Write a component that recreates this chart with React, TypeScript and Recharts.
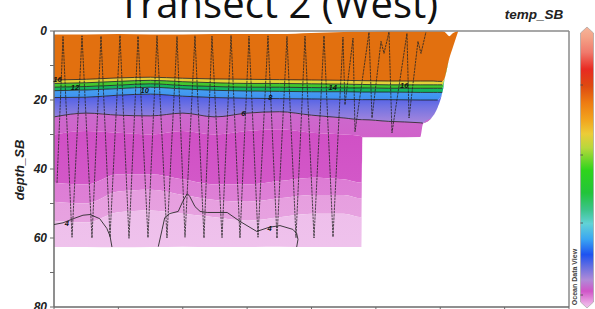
import React from 'react';
import { ComposedChart, Area, Line, Scatter, XAxis, YAxis, ReferenceLine } from 'recharts';

// section sample positions (distance units) and layer depths (m)
const X = [0, 5, 10, 15, 20, 25, 30, 35, 40, 45, 47.8, 47.9, 52, 56.9, 57.3, 58.9, 59.6, 60.3, 60.7, 61.4, 62.0, 62.8];
const TOP = [1.0, 1.0, 0.9, 1.0, 1.0, 0.9, 0.9, 0.9, 0.6, 0.3, 0.2, 0.2, 0.1, 0.1, 0.1, 0.1, 0.1, 0.1, 0.3, 1.5, 0.6, 0.0];
const BOTTOM = [62.6, 62.6, 62.7, 62.6, 62.5, 62.6, 62.6, 62.5, 62.6, 62.6, 62.6, 30.8, 30.8, 30.7, 27.0, 24.6, 22.2, 18.0, 13.6, 8.0, 4.5, 0.0];
const C16 = [14.2, 14.0, 13.6, 13.4, 13.7, 13.9, 14.0, 14.1, 14.2, 14.3, 14.4, 14.4, 14.5, 14.5, 14.5, 14.5, 14.6, 14.6, 14.6, 14.6, 14.6, 14.6];
const C14 = [15.2, 15.0, 14.6, 14.3, 14.7, 15.0, 15.2, 15.2, 15.3, 15.4, 15.5, 15.5, 15.6, 15.6, 15.6, 15.6, 15.6, 15.6, 15.6, 15.6, 15.6, 15.6];
const C12 = [16.3, 16.1, 15.7, 15.3, 15.8, 16.1, 16.3, 16.3, 16.4, 16.5, 16.5, 16.5, 16.6, 16.6, 16.6, 16.6, 16.6, 16.6, 16.6, 16.6, 16.6, 16.6];
const C10 = [17.3, 17.1, 16.7, 16.3, 16.8, 17.2, 17.4, 17.5, 17.6, 17.6, 17.7, 17.7, 17.7, 17.8, 17.8, 17.8, 17.8, 17.8, 17.8, 17.8, 17.8, 17.8];
const C8 = [19.3, 19.2, 18.6, 18.3, 18.9, 19.3, 19.5, 19.6, 19.7, 19.8, 19.9, 19.9, 19.9, 20.0, 20.0, 20.0, 20.0, 20.0, 20.0, 20.0, 20.0, 20.0];
const C6 = [24.9, 23.8, 24.4, 24.6, 23.8, 24.9, 23.8, 23.4, 24.4, 25.2, 25.7, 25.7, 26.2, 26.6, 26.7, 26.7, 26.7, 26.7, 26.7, 26.7, 26.7, 26.7];
const P1 = [30.0, 29.0, 29.5, 30.0, 29.0, 30.0, 29.0, 28.5, 29.5, 30.0, 30.5, 33.0, 33.0, 33.0, 33.0, 33.0, 33.0, 33.0, 33.0, 33.0, 33.0, 33.0];
const P2 = [44.0, 44.5, 41.5, 41.5, 43.0, 44.5, 44.5, 43.5, 42.5, 43.0, 44.0, 44.0, 44.0, 44.0, 44.0, 44.0, 44.0, 44.0, 44.0, 44.0, 44.0, 44.0];
const P3 = [49.5, 50.0, 46.5, 46.0, 47.5, 49.0, 49.5, 48.5, 47.5, 47.5, 48.5, 48.5, 48.5, 48.5, 48.5, 48.5, 48.5, 48.5, 48.5, 48.5, 48.5, 48.5];
const P4 = [55.0, 55.5, 52.5, 52.0, 53.0, 54.0, 55.0, 54.0, 53.0, 53.0, 54.0, 54.0, 54.0, 54.0, 54.0, 54.0, 54.0, 54.0, 54.0, 54.0, 54.0, 54.0];

// glider track
const TRACK_X = [0.47, 1.40, 2.80, 4.35, 5.90, 7.30, 8.70, 10.25, 11.65, 13.05, 14.60, 16.00, 17.55, 19.11, 20.35, 21.90, 23.30, 24.54, 26.10, 27.50, 28.89, 30.29, 31.69, 33.24, 34.64, 36.19, 37.59, 38.99, 40.39, 41.94, 43.34, 44.89, 45.20, 46.45, 46.76, 48.93, 49.40, 50.80, 51.26, 52.04, 52.50, 54.83, 55.15, 56.54, 57.01, 57.78];
const TRACK_D = [44.0, 1.6, 59.8, 1.4, 60.0, 1.5, 59.7, 1.3, 60.1, 1.5, 59.9, 1.4, 60.0, 1.6, 59.8, 1.4, 60.0, 1.5, 59.9, 1.3, 60.0, 1.5, 59.8, 1.4, 60.1, 1.6, 59.9, 1.5, 60.0, 1.4, 59.7, 1.8, 21.4, 2.1, 29.2, 0.4, 25.2, 3.0, 6.5, 0.3, 29.5, 0.7, 25.2, 3.0, 6.5, 0.3];

// 4 degree isotherm, two pieces
const C4A_X = [0, 1.4, 3.0, 4.5, 5.6, 7.1, 8.2, 8.7, 9.0];
const C4A_D = [56.1, 55.6, 54.4, 53.4, 53.2, 54.4, 57.2, 59.4, 62.6];
const C4B_X = [16.2, 16.8, 17.2, 18.0, 19.3, 20.0, 20.7, 21.1, 21.9, 22.7, 23.8, 26.9, 28.9, 31.5, 33.4, 35.1, 37.1, 37.7, 37.9, 37.7];
const C4B_D = [62.5, 57.5, 54.1, 52.9, 52.3, 49.4, 47.1, 48.0, 50.9, 52.3, 52.6, 52.6, 55.2, 58.1, 56.9, 56.4, 57.5, 58.7, 60.4, 62.6];

const LABELS = ['16', '12', '10', '8', '6', '4', '4', '14', '16'];
const LABEL_X = [0.55, 3.26, 14.1, 33.6, 29.4, 2.0, 33.5, 43.3, 54.4];
const LABEL_D = [14.2, 16.5, 17.3, 19.4, 24.0, 55.9, 57.2, 16.4, 15.7];

const DEPTH_TICKS = [0, 10, 20, 30, 40, 50, 60, 70, 80];
const DIST_TICKS = [0, 10, 20, 30, 40, 50, 60, 70, 80];

const BOUNDS = [TOP, C16, C14, C12, C10, C8, C6, P1, P2, P3, P4, BOTTOM];
const BAND_FILLS = ['#e2700f', 'url(#gB)', 'url(#gC)', 'url(#gD)', 'url(#gE)', 'url(#gF)', 'url(#gG)', 'url(#gH)', 'url(#gI)', 'url(#gJ)', 'url(#gK)'];
const CONTOURS: [string, number[]][] = [['c16', C16], ['c14', C14], ['c12', C12], ['c10', C10], ['c8', C8], ['c6', C6]];

const GRADS: [string, [number, string][]][] = [
  ['gB', [[0, '#efa22e'], [1, '#e3d23a']]],
  ['gC', [[0, '#b5d63c'], [1, '#3cc62c']]],
  ['gD', [[0, '#1fbf32'], [1, '#14b462']]],
  ['gE', [[0, '#1fb0a6'], [0.5, '#5ac6e8'], [1, '#3d8ef2']]],
  ['gF', [[0, '#2a5ff2'], [0.3, '#1a3ff0'], [0.6, '#2a4bef'], [0.82, '#7273e2'], [1, '#a886dc']]],
  ['gG', [[0, '#bf80d8'], [1, '#d062ca']]],
  ['gH', [[0, '#d05ac8'], [0.5, '#cf4cc4'], [1, '#d358c8']]],
  ['gI', [[0, '#d866ce'], [1, '#de80d6']]],
  ['gJ', [[0, '#e18cda'], [1, '#e7a2e0']]],
  ['gK', [[0, '#eaaee7'], [1, '#efc2ec']]],
];

const clip = (v: number, lo: number, hi: number) => Math.min(Math.max(v, lo), hi);

const rows = X.map((x, i) => {
  const r: any = { x };
  for (let b = 0; b < BOUNDS.length - 1; b++) {
    r['band' + b] = [clip(BOUNDS[b][i], TOP[i], BOTTOM[i]), clip(BOUNDS[b + 1][i], TOP[i], BOTTOM[i])];
  }
  CONTOURS.forEach(([k, arr]) => {
    r[k] = arr[i] <= BOTTOM[i] ? arr[i] : null;
  });
  return r;
});

const track = TRACK_X.map((x, i) => ({ x, y: TRACK_D[i] }));
const c4a = C4A_X.map((x, i) => ({ x, y: C4A_D[i] }));
const c4b = C4B_X.map((x, i) => ({ x, y: C4B_D[i] }));
const labels = LABELS.map((t, i) => ({ x: LABEL_X[i], y: LABEL_D[i], t }));

const noDot = () => <g />;
const labelShape = (p: any) => (
  <text x={p.cx} y={p.cy} dy={2.5} textAnchor="middle" fontSize={7.5} fontWeight="bold" fontStyle="italic"
    fontFamily="Liberation Sans, Arial" fill="#111">{p.payload.t}</text>
);

const BAR_STOPS: [number, string][] = [
  [0.0, '#f6b49a'], [0.035, '#f4a488'], [0.09, '#f07a6c'], [0.15, '#e82a22'], [0.21, '#de4a10'],
  [0.27, '#ee7c12'], [0.33, '#f2a41e'], [0.38, '#eccc38'], [0.43, '#b8d83c'], [0.51, '#2ed41c'],
  [0.59, '#22c43a'], [0.65, '#3cc48a'], [0.70, '#62d2d6'], [0.755, '#3aa6f2'], [0.81, '#1e52f0'],
  [0.855, '#6a70e0'], [0.90, '#b08ad8'], [0.94, '#d055c8'], [0.985, '#ecaee6'], [1, '#f0bcea'],
];

const axisFont = { fontSize: 12, fontWeight: 'bold', fontStyle: 'italic', fontFamily: 'Liberation Sans, Arial', fill: '#222' };

export default function App() {
  return (
    <div style={{ position: 'absolute', left: 0, top: 0, width: 595, height: 309, overflow: 'hidden', background: '#fff' }}>
      <ComposedChart width={595} height={330} data={rows} margin={{ top: 31, right: 26, bottom: 0, left: 0 }}>
        <defs>
          {GRADS.map(([id, stops]) => (
            <linearGradient key={id} id={id} x1="0" y1="0" x2="0" y2="1">
              {stops.map(([o, c]) => <stop key={o} offset={o} stopColor={c} />)}
            </linearGradient>
          ))}
        </defs>
        <XAxis dataKey="x" type="number" domain={[0, 80]} ticks={DIST_TICKS} tickFormatter={() => ''}
          height={23} tickSize={5} axisLine={{ stroke: '#6a6a6a', strokeWidth: 1.5 }} tickLine={{ stroke: '#6a6a6a' }} />
        <YAxis type="number" domain={[0, 80]} reversed ticks={DEPTH_TICKS} width={54} tickSize={4} tickMargin={3}
          tickFormatter={(v: number) => (v % 20 === 0 ? String(v) : '')} tick={axisFont}
          axisLine={{ stroke: '#6a6a6a', strokeWidth: 1.5 }} tickLine={{ stroke: '#6a6a6a' }} />
        {BAND_FILLS.map((fill, b) => (
          <Area key={b} dataKey={'band' + b} type="monotone" stroke="none" fill={fill} fillOpacity={1}
            dot={false} activeDot={false} isAnimationActive={false} />
        ))}
        {CONTOURS.map(([k]) => (
          <Line key={k} dataKey={k} type="monotone" stroke="#1c1c1c" strokeWidth={0.8} dot={false}
            activeDot={false} connectNulls={false} isAnimationActive={false} />
        ))}
        <Scatter data={c4a} dataKey="y" line={{ stroke: '#2a2a2a', strokeWidth: 0.9 }} lineType="joint" shape={noDot} isAnimationActive={false} />
        <Scatter data={c4b} dataKey="y" line={{ stroke: '#2a2a2a', strokeWidth: 0.9 }} lineType="joint" shape={noDot} isAnimationActive={false} />
        <Scatter data={track} dataKey="y" line={{ stroke: '#262626', strokeWidth: 0.8, strokeDasharray: '2.5 0.8' }} lineType="joint" shape={noDot} isAnimationActive={false} />
        <Scatter data={labels} dataKey="y" shape={labelShape} isAnimationActive={false} />
        <ReferenceLine y={0} stroke="#8a8a8a" strokeWidth={1.5} />
        <ReferenceLine x={80} stroke="#8a8a8a" strokeWidth={1.5} />
      </ComposedChart>
      <svg width={595} height={309} style={{ position: 'absolute', left: 0, top: 0, pointerEvents: 'none' }}>
        <defs>
          <linearGradient id="cbar" x1="0" y1="0" x2="0" y2="1">
            {BAR_STOPS.map(([o, c]) => <stop key={o} offset={o} stopColor={c} />)}
          </linearGradient>
        </defs>
        <text x={278} y={18} textAnchor="middle" fontFamily="Open Sans" fontSize={40} fill="#111">Transect 2 (West)</text>
        <text x={534} y={19} textAnchor="middle" fontFamily="Liberation Sans, Arial" fontSize={13.5} fontWeight="bold" fontStyle="italic" fill="#222">temp_SB</text>
        <text x={19} y={170} textAnchor="middle" dy="0.35em" transform="rotate(-90 19 170)" fontFamily="Liberation Sans, Arial"
          fontSize={13} fontWeight="bold" fontStyle="italic" fill="#222">depth_SB</text>
        <path d="M587,27 L593.5,33 L593.5,302 L587,308 L580.5,302 L580.5,33 Z" fill="url(#cbar)" stroke="#9a9a9a" strokeWidth={0.6} />
        {[85, 155, 223, 295].map((y) => <line key={y} x1={580.5} x2={583} y1={y} y2={y} stroke="#444" strokeWidth={0.8} />)}
        <text x={575} y={277} textAnchor="middle" dy="0.35em" transform="rotate(-90 575 277)" fontFamily="Liberation Sans, Arial"
          fontSize={7} fontWeight="bold" fill="#444">Ocean Data View</text>
      </svg>
    </div>
  );
}
